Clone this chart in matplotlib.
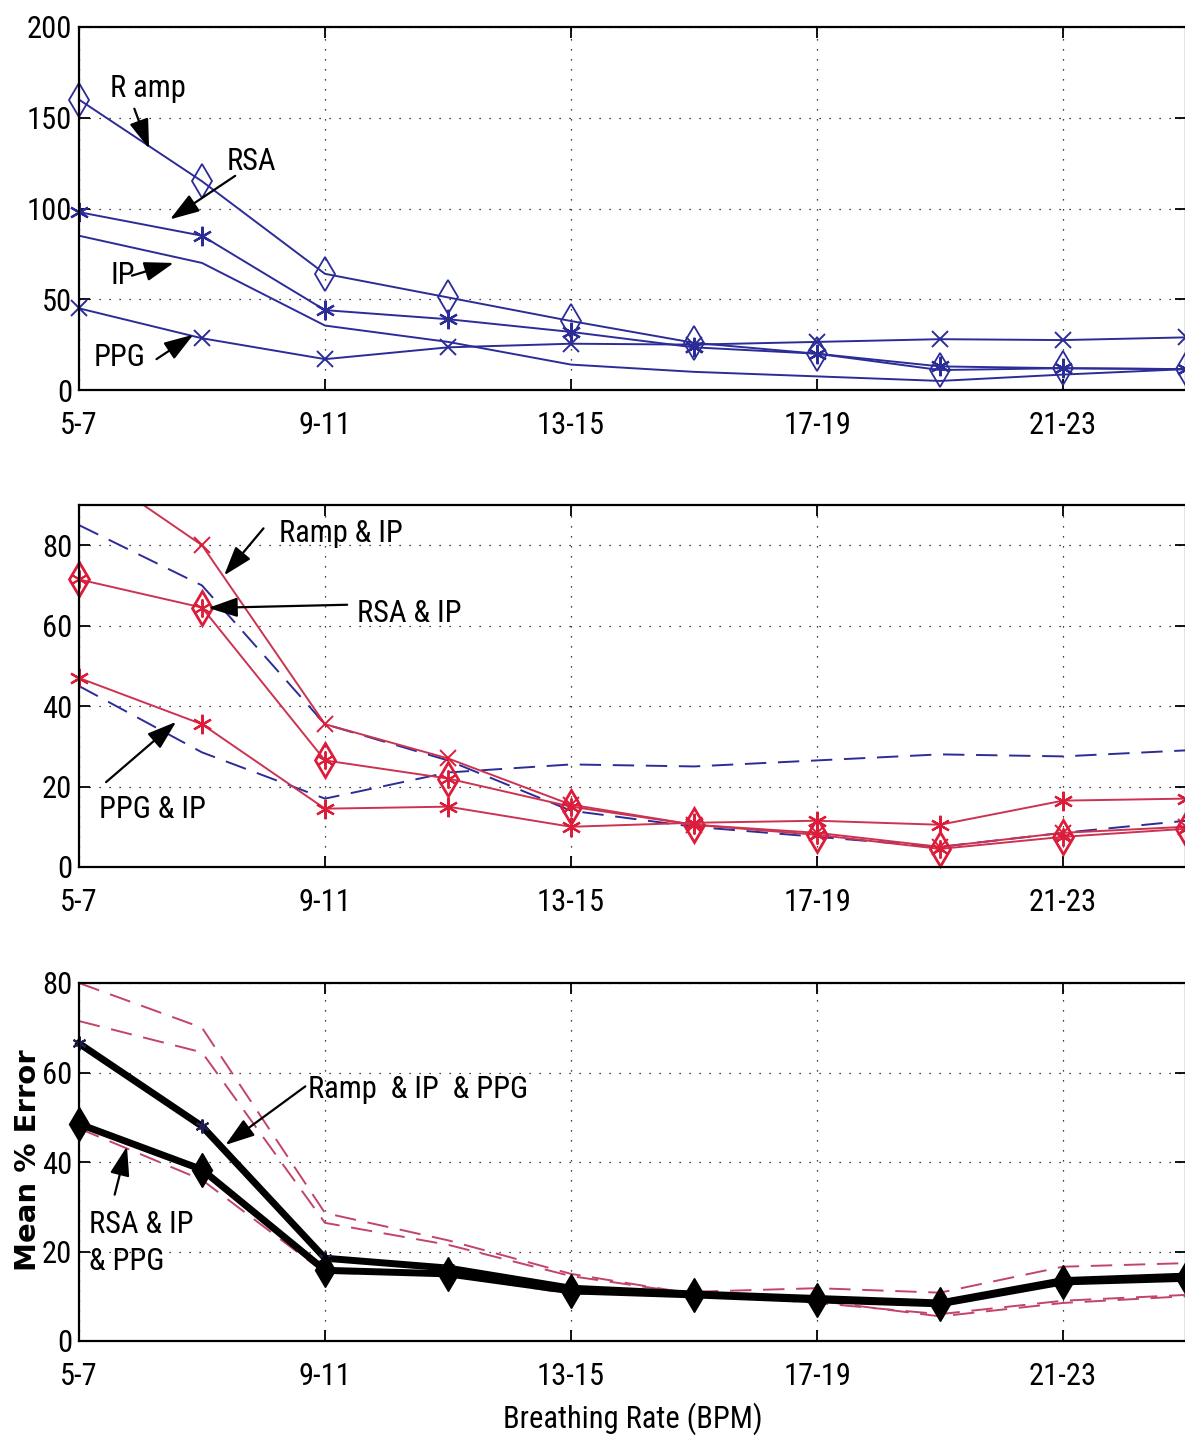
import numpy as np
import matplotlib
matplotlib.use("Agg")
import matplotlib.pyplot as plt
from matplotlib import font_manager as fm

# pick a narrow sans if one is installed, the reference uses Helvetica Narrow
fonts = fm.fontManager.ttflist
names = {f.name for f in fonts}
stretch = 'normal'
FS = 19
family = 'Liberation Sans'
for cand in ['Liberation Sans Narrow', 'Roboto Condensed', 'Open Sans Condensed',
             'Noto Sans Condensed', 'Arial Narrow']:
    if cand in names:
        family, FS = cand, 22
        break
else:
    cond = [f for f in fonts if f.stretch in ('condensed', 'semi-condensed')
            and f.name in ('DejaVu Sans', 'Noto Sans', 'Roboto', 'Open Sans', 'Liberation Sans')]
    if cond:
        family, stretch, FS = cond[0].name, cond[0].stretch, 21
plt.rcParams['font.family'] = [family, 'DejaVu Sans']
plt.rcParams['font.stretch'] = stretch

# breathing-rate bins (only every second one is labelled)
bins = ['5-7', '7-9', '9-11', '11-13', '13-15',
        '15-17', '17-19', '19-21', '21-23', '23-25']
tick_pos = [0, 2, 4, 6, 8]

# top panel: single sources
ramp = [160, 115, 64, 51, 38, 26, 20, 11, 12, 11.5]
rsa = [98, 85, 44, 39, 32, 23.5, 20, 13, 12, 11.5]
ip = [85, 70, 35.5, 26.5, 14, 10, 7.5, 5, 8.5, 11.5]
ppg = [45, 28.5, 17, 23.5, 25.5, 25, 26.5, 28, 27.5, 29]

# middle panel: pairs with IP
ramp_ip = [101, 80, 35.5, 27, 15.5, 10.5, 8.5, 5, 8.5, 10]
rsa_ip = [71.5, 64.5, 26.5, 22, 15, 10.5, 8, 4.5, 7.5, 9.5]
ppg_ip = [47, 35.5, 14.5, 15, 10, 11, 11.5, 10.5, 16.5, 17]

# bottom panel: triples + dashed references
ramp_ip_ppg = [66.5, 48, 18.5, 16.3, 11.8, 10.5, 9.5, 8.5, 13.5, 14.5]
rsa_ip_ppg = [48.5, 38.3, 15.8, 15, 11.2, 10.3, 9.2, 8.3, 13.2, 14]
ref_a = [80, 70, 28.6, 22.5, 15, 10.5, 9, 5.5, 8.5, 10]
ref_b = [71.5, 64.5, 26.4, 21.5, 14.5, 10.5, 8.5, 6, 9, 10.3]
ref_c = [47.5, 36, 15.2, 14.8, 10.5, 11, 11.8, 10.8, 16.6, 17.4]

BLUE = '#2c2c98'
RED = '#cc3352'
RED_M = '#dd1c3a'
DASH_RED = '#c24468'
ASTER = (6, 2, 0)
DASH = (11, 6)

x = np.arange(len(bins))
W, H = 1185, 1441
fig = plt.figure(figsize=(W / 100, H / 100), dpi=100)


def make_ax(top_px, bot_px):
    ax = fig.add_axes([79 / W, 1 - bot_px / H, (1186 - 79) / W, (bot_px - top_px) / H])
    ax.set_xlim(0, 9)
    ax.set_xticks(tick_pos)
    ax.set_xticklabels([bins[i] for i in tick_pos])
    ax.tick_params(direction='in', length=8, width=1.3, top=True, right=True,
                   labelsize=FS)
    ax.tick_params(axis='x', pad=15)
    ax.tick_params(axis='y', pad=5)
    ax.grid(True, color='k', linestyle=(0, (1, 7)), linewidth=0.9)
    for s in ax.spines.values():
        s.set_linewidth(1.6)
    return ax


arrow = dict(arrowstyle='-|>,head_length=0.9,head_width=0.3', color='k', lw=1.6,
             shrinkA=0, shrinkB=0, mutation_scale=20)

# ---------------- top ----------------
ax1 = make_ax(27, 390)
ax1.set_ylim(0, 200)
ax1.set_yticks([0, 50, 100, 150, 200])
ax1.plot(x, ramp, '-', color=BLUE, lw=1.4, marker='d', ms=17, mfc='none', mew=1.3, clip_on=False)
ax1.plot(x, rsa, '-', color=BLUE, lw=1.4, marker=ASTER, ms=14, mew=1.6, clip_on=False)
ax1.plot(x, ip, '-', color=BLUE, lw=1.4)
ax1.plot(x, ppg, '-', color=BLUE, lw=1.4, marker='x', ms=11, mew=1.4, clip_on=False)

ax1.text(0.25, 166, 'R amp', fontsize=FS, va='center')
ax1.annotate('', xy=(0.57, 133), xytext=(0.45, 155), arrowprops=arrow)
ax1.text(1.2, 126, 'RSA', fontsize=FS, va='center')
ax1.annotate('', xy=(0.74, 94), xytext=(1.27, 118), arrowprops=arrow)
ax1.text(0.26, 63, 'IP', fontsize=FS, va='center')
ax1.annotate('', xy=(0.77, 70), xytext=(0.43, 63), arrowprops=arrow)
ax1.text(0.12, 18, 'PPG', fontsize=FS, va='center')
ax1.annotate('', xy=(0.93, 30.5), xytext=(0.63, 17), arrowprops=arrow)

# ---------------- middle ----------------
ax2 = make_ax(505, 867)
ax2.set_ylim(0, 90)
ax2.set_yticks([0, 20, 40, 60, 80])
ax2.plot(x, ip, color=BLUE, lw=1.4, dashes=DASH)
ax2.plot(x, ppg, color=BLUE, lw=1.4, dashes=DASH)
ax2.plot(x, ramp_ip, '-', color=RED, lw=1.4, marker='x', ms=11, mec=RED_M, mew=1.4)
ax2.plot(x, rsa_ip, '-', color=RED, lw=1.4, marker='d', ms=17, mfc='none', mec=RED_M, mew=2,
         clip_on=False)
ax2.plot(x, rsa_ip, ' ', marker=ASTER, ms=13, mec=RED_M, mew=1.4, clip_on=False)
ax2.plot(x, ppg_ip, '-', color=RED, lw=1.4, marker=ASTER, ms=14, mec=RED_M, mew=1.6,
         clip_on=False)

ax2.text(1.63, 83, 'Ramp & IP', fontsize=FS, va='center')
ax2.annotate('', xy=(1.18, 72.5), xytext=(1.5, 84.2), arrowprops=arrow)
ax2.text(2.26, 63, 'RSA & IP', fontsize=FS, va='center')
ax2.annotate('', xy=(1.05, 64.4), xytext=(2.18, 65.2), arrowprops=arrow)
ax2.text(0.16, 14.2, 'PPG & IP', fontsize=FS, va='center')
ax2.annotate('', xy=(0.79, 36.1), xytext=(0.22, 21.1), arrowprops=arrow)

# ---------------- bottom ----------------
ax3 = make_ax(983, 1341)
ax3.set_ylim(0, 80)
ax3.set_yticks([0, 20, 40, 60, 80])
for ref in (ref_a, ref_b, ref_c):
    ax3.plot(x, ref, color=DASH_RED, lw=1.4, dashes=DASH)
ax3.plot(x, ramp_ip_ppg, '-', color='k', lw=5, marker=ASTER, ms=10, mec='#202050', mew=1.5,
         clip_on=False)
ax3.plot(x, rsa_ip_ppg, '-', color='k', lw=5, marker='d', ms=17, mfc='k', mec='k',
         clip_on=False)

ax3.text(1.86, 56.2, 'Ramp  & IP  & PPG', fontsize=FS, va='center')
ax3.annotate('', xy=(1.19, 43.8), xytext=(1.84, 56.9), arrowprops=arrow)
ax3.text(0.08, 21.9, 'RSA & IP\n& PPG', fontsize=FS, va='center', linespacing=1.35)
ax3.annotate('', xy=(0.39, 43.5), xytext=(0.29, 32.7), arrowprops=arrow)

ax3.set_xlabel('Breathing Rate (BPM)', fontsize=FS, labelpad=8)
fig.text(28 / W, 1 - 1160 / H, 'Mean % Error', rotation=90, fontsize=21,
         fontweight='bold', family=['DejaVu Sans'], stretch='normal',
         ha='center', va='center')

fig.savefig('out.png', dpi=100)
